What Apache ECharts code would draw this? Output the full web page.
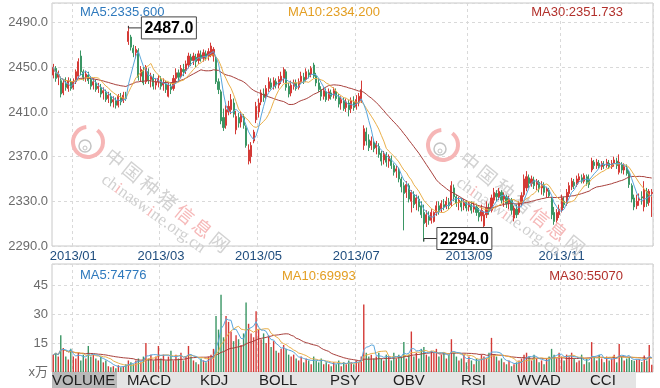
<!DOCTYPE html>
<html><head><meta charset="utf-8">
<script src="https://cdn.jsdelivr.net/npm/echarts@6/dist/echarts.min.js"></script>
<style>html,body{margin:0;padding:0;background:#fff}#c{width:660px;height:388px}</style>
</head><body><div id="c"></div>
<script>
// ---------- DATA ----------
const monthDays = [
  ['2012/12', '20 21 24 25 26 27 28 31'],
  ['2013/01', '04 07 08 09 10 11 14 15 16 17 18 21 22 23 24 25 28 29 30 31'],
  ['2013/02', '01 04 05 06 07 08 18 19 20 21 22 25 26 27 28'],
  ['2013/03', '01 04 05 06 07 08 11 12 13 14 15 18 19 20 21 22 25 26 27 28 29'],
  ['2013/04', '01 02 03 08 09 10 11 12 15 16 17 18 19 22 23 24 25 26'],
  ['2013/05', '02 03 06 07 08 09 10 13 14 15 16 17 20 21 22 23 24 27 28 29 30 31'],
  ['2013/06', '03 04 05 06 07 13 14 17 18 19 20 21 24 25 26 27 28'],
  ['2013/07', '01 02 03 04 05 08 09 10 11 12 15 16 17 18 19 22 23 24 25 26 29 30 31'],
  ['2013/08', '01 02 05 06 07 08 09 12 13 14 15 16 19 20 21 22 23 26 27 28 29 30'],
  ['2013/09', '02 03 04 05 06 09 10 11 12 13 16 17 18 23 24 25 26 27 30'],
  ['2013/10', '08 09 10 11 14 15 16 17 18 21 22 23 24 25 28 29 30 31'],
  ['2013/11', '01 04 05 06 07 08 11 12 13 14 15 18 19 20 21 22 25 26 27 28 29'],
  ['2013/12', '02 03 04 05 06 09 10 11 12 13 16 17 18 19 20 23']
];
const labelMonths = ['2013/01', '2013/03', '2013/05', '2013/07', '2013/09', '2013/11'];

// [open, close, low, high]
const candles = [
[2443,2450,2440,2453],[2449,2440,2437,2451],[2441,2444,2434,2447],[2438,2426,2423,2440],[2427,2436,2425,2439],
[2436,2432,2429,2441],[2431,2438,2428,2441],[2437,2431,2429,2440],[2432,2437,2430,2440],[2437,2446,2435,2448],
[2442,2455,2440,2458],[2460,2446,2443,2465],[2446,2441,2438,2448],[2441,2444,2437,2447],[2443,2438,2435,2446],
[2439,2433,2430,2442],[2434,2437,2430,2440],[2436,2430,2428,2439],[2431,2433,2427,2436],[2432,2426,2423,2435],
[2427,2429,2421,2432],[2428,2421,2419,2430],[2422,2425,2418,2428],[2424,2418,2415,2427],[2419,2421,2414,2424],
[2420,2416,2413,2423],[2416,2424,2414,2426],[2423,2419,2416,2427],[2420,2425,2418,2428],[2424,2422,2420,2428],
[2473,2482,2470,2487],[2477,2468,2465,2479],[2467,2463,2459,2470],[2463,2466,2458,2469],[2465,2441,2438,2467],
[2442,2448,2437,2451],[2447,2436,2434,2450],[2437,2450,2435,2452],[2446,2438,2435,2449],[2439,2442,2432,2445],
[2441,2433,2430,2444],[2434,2437,2430,2440],[2437,2440,2432,2443],[2439,2433,2430,2442],[2434,2436,2429,2440],
[2435,2430,2427,2438],[2424,2434,2423,2436],[2433,2430,2426,2436],[2431,2440,2429,2443],[2440,2445,2436,2449],
[2445,2441,2437,2448],[2442,2449,2440,2452],[2448,2446,2442,2453],[2447,2453,2444,2456],[2452,2460,2449,2463],
[2459,2456,2451,2462],[2456,2460,2452,2463],[2459,2455,2450,2462],[2456,2462,2453,2465],[2461,2458,2455,2465],
[2458,2463,2455,2466],[2462,2459,2456,2465],[2460,2464,2456,2467],[2461,2469,2459,2472],[2460,2466,2455,2468],
[2458,2437,2435,2460],[2437,2430,2426,2440],[2428,2402,2399,2430],[2405,2396,2393,2413],[2398,2412,2395,2416],
[2410,2415,2407,2420],[2412,2421,2408,2426],[2418,2408,2405,2422],[2394,2406,2390,2411],[2405,2400,2396,2409],
[2401,2407,2396,2410],[2405,2398,2395,2408],[2396,2380,2378,2398],[2366,2376,2363,2381],[2370,2380,2364,2383],
[2384,2392,2382,2394],[2403,2415,2400,2419],[2410,2418,2405,2422],[2419,2427,2416,2430],[2426,2423,2419,2431],
[2424,2431,2421,2434],[2431,2437,2428,2441],[2436,2432,2430,2440],[2433,2438,2430,2441],[2437,2434,2431,2440],
[2434,2439,2431,2442],[2438,2442,2435,2446],[2440,2448,2436,2450],[2446,2432,2429,2448],[2433,2426,2423,2436],
[2427,2434,2424,2438],[2433,2436,2430,2439],[2436,2431,2429,2439],[2432,2437,2430,2440],[2437,2442,2435,2446],
[2441,2438,2435,2445],[2439,2446,2437,2449],[2445,2443,2440,2448],[2444,2449,2441,2451],[2452,2442,2440,2454],
[2442,2436,2433,2445],[2436,2430,2428,2440],[2430,2424,2420,2433],[2424,2429,2421,2432],[2428,2421,2419,2431],
[2422,2428,2420,2431],[2427,2424,2421,2430],[2425,2429,2422,2432],[2428,2422,2420,2431],[2423,2417,2414,2426],
[2418,2421,2412,2424],[2420,2413,2411,2423],[2414,2419,2410,2422],[2418,2412,2406,2421],[2413,2420,2409,2423],
[2419,2414,2411,2424],[2415,2421,2412,2425],[2418,2424,2415,2427],[2420,2430,2418,2438],[2380,2395,2376,2398],
[2392,2384,2380,2396],[2385,2378,2375,2390],[2380,2384,2376,2388],[2383,2377,2374,2386],[2378,2381,2372,2384],
[2379,2372,2369,2382],[2373,2366,2362,2375],[2367,2372,2363,2375],[2371,2365,2361,2374],[2366,2370,2360,2372],
[2368,2362,2359,2371],[2362,2356,2353,2364],[2357,2359,2351,2362],[2358,2350,2347,2360],[2350,2343,2338,2352],
[2344,2337,2304,2347],[2338,2345,2333,2348],[2344,2332,2329,2346],[2330,2338,2320,2340],[2336,2327,2324,2339],
[2328,2333,2322,2336],[2332,2325,2321,2335],[2326,2318,2315,2330],[2320,2310,2294,2327],[2311,2318,2307,2322],
[2317,2313,2309,2321],[2313,2320,2310,2323],[2312,2320,2311,2321],[2320,2326,2317,2330],[2326,2322,2318,2330],
[2323,2328,2320,2331],[2327,2325,2322,2332],[2325,2330,2323,2334],[2329,2326,2323,2333],[2327,2344,2325,2348],
[2342,2334,2330,2345],[2334,2328,2325,2336],[2329,2331,2322,2334],[2330,2325,2321,2333],[2326,2329,2322,2332],
[2329,2324,2321,2331],[2325,2328,2321,2330],[2327,2322,2319,2330],[2323,2326,2320,2329],[2325,2320,2317,2328],
[2320,2316,2312,2324],[2317,2322,2312,2327],[2308,2318,2304,2321],[2318,2324,2315,2330],[2324,2321,2318,2328],
[2322,2333,2320,2336],[2331,2338,2328,2342],[2337,2334,2330,2340],[2334,2339,2331,2342],[2338,2331,2328,2340],
[2332,2335,2325,2338],[2334,2328,2324,2336],[2329,2332,2323,2335],[2331,2322,2318,2333],[2315,2324,2312,2326],
[2323,2318,2315,2327],[2320,2328,2318,2330],[2328,2335,2326,2338],[2336,2350,2334,2354],[2342,2352,2339,2357],
[2351,2346,2342,2354],[2346,2350,2343,2353],[2349,2344,2341,2352],[2345,2348,2340,2350],[2347,2341,2338,2349],
[2342,2345,2336,2348],[2344,2338,2335,2347],[2339,2341,2333,2343],[2340,2335,2333,2342],[2333,2318,2314,2334],
[2320,2312,2309,2325],[2313,2320,2311,2323],[2318,2323,2315,2327],[2322,2333,2320,2336],[2330,2327,2324,2334],
[2328,2338,2326,2341],[2337,2344,2334,2347],[2343,2348,2340,2351],[2347,2344,2341,2350],[2345,2350,2343,2353],
[2349,2352,2346,2355],[2351,2348,2346,2354],[2348,2353,2346,2355],[2352,2347,2344,2354],[2350,2345,2342,2354],
[2358,2366,2356,2369],[2365,2362,2359,2367],[2362,2365,2359,2368],[2364,2361,2359,2367],[2361,2364,2358,2366],
[2363,2362,2359,2366],[2362,2365,2360,2368],[2364,2361,2359,2367],[2361,2364,2359,2367],[2364,2367,2361,2370],
[2366,2362,2359,2369],[2356,2365,2354,2372],[2363,2358,2355,2365],[2358,2361,2354,2364],[2360,2355,2353,2363],
[2356,2345,2342,2358],[2344,2332,2329,2346],[2333,2325,2322,2336],[2326,2330,2323,2336],[2331,2332,2326,2337],
[2334,2333,2327,2339],[2325,2340,2321,2348],[2339,2328,2325,2342],[2329,2339,2326,2341],[2337,2338,2316,2341]
];

// volume, in 万 (10k)
const volumes = [
9,10,8,19,12.5,8,6.5,12,8,7,
10,6,9,7,13.5,8,9,7,6,8,
5,6,3,2.5,3,2,3.5,2.5,3,4,
6,5,4,6,7,5,8,15,7,9,
6,8,13.5,7,9,6,8,11,6,9,
7,10,6,8,13.5,8,6,5,4,7,
6,5,8,9,12,29,22,40,18,29,
26,21,16,19,17,14,20,36,25,20,
18,31.5,22,17,20,15,19,13,16,11,
10,12,14,12,9,8,9,7,6,8,
5,7,6,4,8,6,5,7,4,5,
4,3,5,4,6,3,5,4,6,5,
4,6,5,8,35,10,8,9,7,8,
10,7,6,9,8,6,10,7,9,8,
15.5,7,9,21,8,10,7,12,13,9,
8,11,10,12,8,9,10,7,9,17,
10,8,6,7,9,5,8,6,4,7,
6,9,8,7,10,17.7,9,8,6,7,
5,4,6,3,4,5,6,7,9,10,
8,6,9,7,5,6,4,7,8,12,
9,7,10,8,6,9,8,10,7,5,
6,9,4,7,5,15.5,8,6,9,7,
5,8,6,7,9,5,14.5,8,6,7,
7.5,6.2,5.8,6.5,6.6,5.2,8.5,6.0,14.0,3.7
];

const priceTicks = [2290, 2330, 2370, 2410, 2450, 2490];
const volTicks = [0, 15, 30, 45];
const priceLegend = ['MA5:2335.600', 'MA10:2334.200', 'MA30:2351.733'];
const volLegend = ['MA5:74776', 'MA10:69993', 'MA30:55070'];
const tabs = ['VOLUME', 'MACD', 'KDJ', 'BOLL', 'PSY', 'OBV', 'RSI', 'WVAD', 'CCI'];

// ---------- BUILD ----------
const FONT = 'Arial, "Liberation Sans", "Noto Sans CJK SC", sans-serif';
const categories = [];
const labelIdx = new Set();
monthDays.forEach(([m, s]) => {
  s.split(' ').forEach((d, k) => {
    if (k === 0 && labelMonths.includes(m)) labelIdx.add(categories.length);
    categories.push(m + '/' + d);
  });
});
const closes = candles.map(d => d[1]);
const isUp = candles.map(d => d[1] >= d[0]);
function movingAvg(arr, n) {
  return arr.map((_, i) => {
    const s = Math.max(0, i - n + 1);
    let sum = 0;
    for (let k = s; k <= i; k++) sum += arr[k];
    return +(sum / (i - s + 1)).toFixed(3);
  });
}
const RED = '#d43a36', GREEN = '#3a9664';
const C5 = '#5aa6dc', C10 = '#eab04a', C30 = '#a8403c';
const showTick = (i) => labelIdx.has(i);
const PMIN = 2290, PMAX = 2507.5;

const chart = echarts.init(document.getElementById('c'));
const gridLine = { lineStyle: { color: '#d9d9d9', type: [3, 3], width: 1 } };

function lineSeries(name, data, color, xi, yi) {
  return { name, type: 'line', data, xAxisIndex: xi, yAxisIndex: yi, symbol: 'none', smooth: false,
    lineStyle: { color, width: 1 }, z: 3, silent: true };
}

chart.setOption({
  animation: false,
  backgroundColor: '#fff',
  grid: [
    { left: 52, right: 7, top: 3, height: 243, show: true, borderColor: '#c8c8c8', borderWidth: 1 },
    { left: 52, right: 7, top: 264, height: 108, show: true, borderColor: '#c8c8c8', borderWidth: 1 }
  ],
  xAxis: [
    { type: 'category', gridIndex: 0, data: categories, boundaryGap: true,
      axisLine: { show: false }, axisTick: { show: false },
      axisLabel: { interval: showTick, formatter: v => v.slice(0, 7), color: '#1f4d7e', fontSize: 13, fontFamily: FONT, margin: 4 },
      splitLine: Object.assign({ show: true, interval: showTick }, gridLine) },
    { type: 'category', gridIndex: 1, data: categories, boundaryGap: true,
      axisLine: { show: false }, axisTick: { show: false }, axisLabel: { show: false },
      splitLine: Object.assign({ show: true, interval: showTick }, gridLine) }
  ],
  yAxis: [
    { type: 'value', gridIndex: 0, position: 'right', min: PMIN, max: PMAX, show: false },
    { type: 'value', gridIndex: 0, position: 'left', min: 0, max: PMAX - PMIN, interval: priceTicks[1] - priceTicks[0],
      axisLine: { show: false }, axisTick: { show: false },
      axisLabel: { formatter: v => (v + PMIN).toFixed(1), showMaxLabel: false, color: '#6b6b6b', fontSize: 13, fontFamily: FONT, margin: 4 },
      splitLine: Object.assign({ show: true }, gridLine) },
    { type: 'value', gridIndex: 1, position: 'left', min: 0, max: 56, interval: volTicks[1] - volTicks[0],
      axisLine: { show: false }, axisTick: { show: false },
      axisLabel: { formatter: v => v === 0 ? 'x万' : String(v), showMaxLabel: false, color: '#6b6b6b', fontSize: 13, fontFamily: FONT, margin: 4 },
      splitLine: Object.assign({ show: true }, gridLine) }
  ],
  series: [
    { name: 'K', type: 'candlestick', data: candles, xAxisIndex: 0, yAxisIndex: 0, barWidth: 1.6, z: 2,
      itemStyle: { color: RED, color0: GREEN, borderColor: RED, borderColor0: GREEN, borderWidth: 1 } },
    lineSeries('MA30', movingAvg(closes, 30), C30, 0, 0),
    lineSeries('MA10', movingAvg(closes, 10), C10, 0, 0),
    lineSeries('MA5', movingAvg(closes, 5), C5, 0, 0),
    { name: 'VOL', type: 'bar', xAxisIndex: 1, yAxisIndex: 2, barWidth: 1.4, z: 2,
      data: volumes.map((v, i) => ({ value: v, itemStyle: { color: isUp[i] ? RED : GREEN } })) },
    lineSeries('VMA30', movingAvg(volumes, 30), C30, 1, 2),
    lineSeries('VMA10', movingAvg(volumes, 10), C10, 1, 2),
    lineSeries('VMA5', movingAvg(volumes, 5), C5, 1, 2)
  ]
});

// ---------- GRAPHICS ----------
const g = [];
function txt(x, y, text, fill, size, extra) {
  g.push(Object.assign({ type: 'text', x, y, z: 50,
    style: Object.assign({ text, fill, font: (size || 13) + 'px ' + FONT, textVerticalAlign: 'middle' }, (extra || {})) }));
}
// watermarks
function watermark(dx, dy) {
  g.push({ type: 'arc', z: 1, shape: { cx: 88 + dx, cy: 142 + dy, r: 15, startAngle: -0.9, endAngle: 4.6 },
    style: { stroke: '#f6b6b6', lineWidth: 4, fill: null } });
  g.push({ type: 'circle', z: 1, shape: { cx: 85 + dx, cy: 146 + dy, r: 6 }, style: { stroke: '#c4c4c4', lineWidth: 1.5, fill: null } });
  g.push({ type: 'circle', z: 1, shape: { cx: 85 + dx, cy: 148 + dy, r: 2 }, style: { stroke: '#c4c4c4', lineWidth: 1, fill: null } });
  const chars = ['中', '国', '种', '猪', '信', '息', '网'];
  chars.forEach((ch, k) => {
    g.push({ type: 'text', z: 1, x: 115 + dx + k * 17.5, y: 158 + dy + k * 14, rotation: -0.68,
      style: { text: ch, fill: (ch === '信' || ch === '息') ? '#f6b9b9' : '#d2d2d2',
        font: '19px "Noto Sans CJK SC", sans-serif', textAlign: 'center', textVerticalAlign: 'middle' } });
  });
  g.push({ type: 'text', z: 1, x: 103 + dx, y: 178 + dy, rotation: -0.62,
    style: { text: '{a|ch}{b|i}{a|nasw}{b|i}{a|ne.org.cn}', textVerticalAlign: 'middle',
      rich: { a: { fill: '#d0d0d0', font: '17px "Liberation Serif", "DejaVu Serif", serif' },
              b: { fill: '#f6b9b9', font: '17px "Liberation Serif", "DejaVu Serif", serif' } } } });
}
watermark(0, 0);
watermark(355, 3);

// legends
txt(80, 12, priceLegend[0], '#2e79bd', 13);
txt(334, 12, priceLegend[1], '#e39e22', 13, { textAlign: 'center' });
txt(623, 12, priceLegend[2], '#b2302b', 13, { textAlign: 'right' });
txt(80, 275, volLegend[0], '#2e79bd', 13);
txt(282, 276, volLegend[1], '#e39e22', 13);
txt(623, 276, volLegend[2], '#b2302b', 13, { textAlign: 'right' });

// tab bar
g.push({ type: 'rect', z: 40, shape: { x: 52, y: 372, width: 584, height: 17 }, style: { fill: '#e4e4e4' } });
g.push({ type: 'rect', z: 41, shape: { x: 52, y: 372, width: 65, height: 17 }, style: { fill: '#b9b9b9' } });
const tabX = [52, 127, 200, 259, 330, 393, 461, 517, 590];
tabs.forEach((t, k) => txt(tabX[k], 381, t, '#1e1e1e', 15));

// max / min annotations
let hi = 0, lo = 0;
candles.forEach((d, i) => { if (d[3] > candles[hi][3]) hi = i; if (d[2] < candles[lo][2]) lo = i; });
function annot(idx, val, dy) {
  const p = chart.convertToPixel({ seriesIndex: 0 }, [idx, val]);
  const bx = p[0] + 13, bw = 55, bh = 22, cy = p[1] + dy, by = cy - bh / 2;
  g.push({ type: 'polyline', z: 60, shape: { points: [[p[0], p[1]], [p[0], cy], [bx, cy]] }, style: { stroke: '#333', lineWidth: 1, fill: null } });
  g.push({ type: 'rect', z: 60, shape: { x: bx, y: by, width: bw, height: bh }, style: { fill: '#fff', stroke: '#444', lineWidth: 1 } });
  g.push({ type: 'text', z: 61, x: bx + bw / 2, y: cy + 1,
    style: { text: val.toFixed(1), fill: '#000', font: 'bold 16px ' + FONT, textAlign: 'center', textVerticalAlign: 'middle' } });
}
annot(hi, candles[hi][3], 2);
annot(lo, candles[lo][2], -3);

chart.setOption({ graphic: { elements: g } });
</script>
</body></html>
